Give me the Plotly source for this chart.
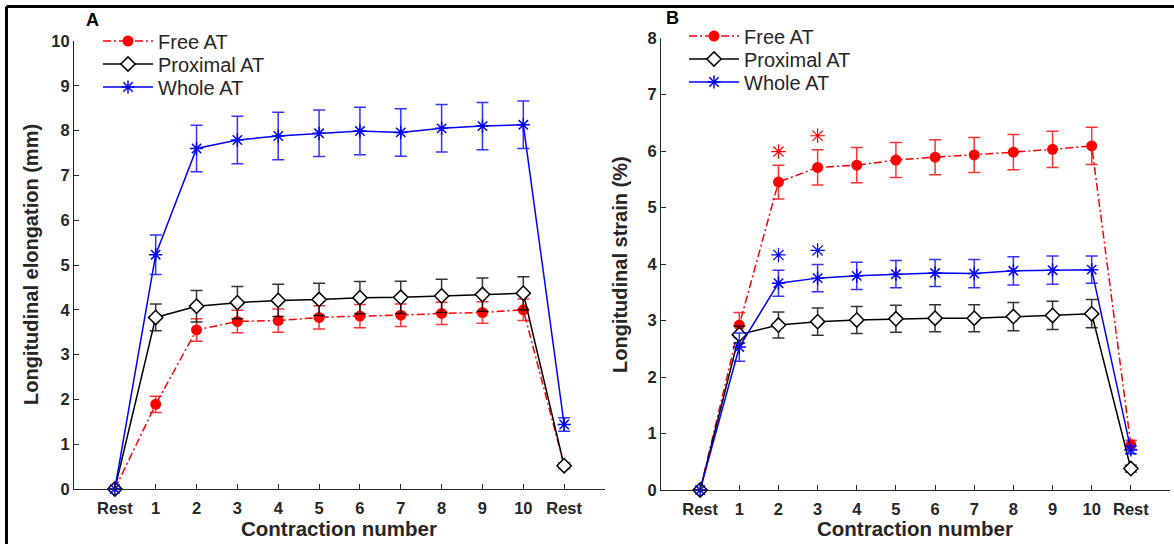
import plotly.graph_objects as go

W, H = 1174, 544

# ---------------- data ----------------
x_idx = list(range(12))
tick_labels = ["Rest", "1", "2", "3", "4", "5", "6", "7", "8", "9", "10", "Rest"]

# Panel A: longitudinal elongation (mm)
free_A = [0, 1.89, 3.55, 3.74, 3.76, 3.83, 3.86, 3.88, 3.92, 3.94, 4.00, 0.52]
free_A_err = [0, 0.18, 0.25, 0.25, 0.26, 0.26, 0.26, 0.25, 0.25, 0.24, 0.24, 0.05]
prox_A = [0, 3.83, 4.08, 4.16, 4.21, 4.23, 4.27, 4.28, 4.31, 4.34, 4.37, 0.52]
prox_A_err = [0, 0.30, 0.35, 0.36, 0.36, 0.36, 0.36, 0.36, 0.37, 0.37, 0.37, 0.06]
whole_A = [0, 5.23, 7.60, 7.79, 7.88, 7.94, 7.99, 7.96, 8.05, 8.10, 8.13, 1.44]
whole_A_err = [0, 0.44, 0.52, 0.53, 0.53, 0.52, 0.53, 0.53, 0.53, 0.53, 0.53, 0.15]

# Panel B: longitudinal strain (%)
free_B = [0, 2.92, 5.45, 5.71, 5.75, 5.84, 5.89, 5.93, 5.98, 6.03, 6.09, 0.80]
free_B_err = [0, 0.22, 0.30, 0.31, 0.31, 0.31, 0.31, 0.31, 0.31, 0.32, 0.33, 0.08]
prox_B = [0, 2.75, 2.92, 2.98, 3.01, 3.03, 3.04, 3.04, 3.07, 3.09, 3.12, 0.38]
prox_B_err = [0, 0.15, 0.23, 0.24, 0.24, 0.24, 0.24, 0.24, 0.25, 0.25, 0.25, 0.06]
whole_B = [0, 2.53, 3.66, 3.75, 3.79, 3.82, 3.84, 3.83, 3.88, 3.89, 3.90, 0.71]
whole_B_err = [0, 0.25, 0.23, 0.24, 0.24, 0.24, 0.24, 0.25, 0.25, 0.25, 0.24, 0.07]

# significance markers (panel B)
sig_x = [2, 3]
sig_free_B = [5.99, 6.27]
sig_whole_B = [4.16, 4.24]

series_names = ["Free AT", "Proximal AT", "Whole AT"]

# ---------------- styles ----------------
RED, BLACK, BLUE = "#ff0000", "#000000", "#0000ff"
AX = "#262626"
FONT = "Liberation Sans, Arial, sans-serif"


def px_x(p):
    return p / W


def px_y(p):
    return 1 - p / H


fig = go.Figure()


def add_panel(xa, ya, legends, free, free_e, prox, prox_e, whole, whole_e):
    fig.add_trace(go.Scatter(
        x=x_idx, y=free, name=series_names[0], mode="lines+markers",
        xaxis=xa, yaxis=ya, legend=legends[0], cliponaxis=False,
        line=dict(color=RED, width=1.5, dash="8px,3px,2px,3px"),
        marker=dict(symbol="circle", size=11, color=RED, line=dict(width=0)),
        error_y=dict(type="data", array=free_e, color="rgba(255,0,0,0.8)",
                     thickness=1.5, width=6),
    ))
    fig.add_trace(go.Scatter(
        x=x_idx, y=prox, name=series_names[1], mode="lines+markers",
        xaxis=xa, yaxis=ya, legend=legends[1], cliponaxis=False,
        line=dict(color=BLACK, width=1.5),
        marker=dict(symbol="diamond", size=11, color="white",
                    line=dict(color=BLACK, width=1.5)),
        error_y=dict(type="data", array=prox_e, color="rgba(0,0,0,0.8)",
                     thickness=1.5, width=6),
    ))
    fig.add_trace(go.Scatter(
        x=x_idx, y=whole, name=series_names[2], mode="lines+markers",
        xaxis=xa, yaxis=ya, legend=legends[2], cliponaxis=False,
        line=dict(color=BLUE, width=1.5),
        marker=dict(symbol="asterisk-open", size=11, color=BLUE,
                    line=dict(color=BLUE, width=1.5)),
        error_y=dict(type="data", array=whole_e, color="rgba(0,0,255,0.8)",
                     thickness=1.5, width=6),
    ))


add_panel("x", "y", ["legend", "legend2", "legend3"],
          free_A, free_A_err, prox_A, prox_A_err, whole_A, whole_A_err)
add_panel("x2", "y2", ["legend4", "legend5", "legend6"],
          free_B, free_B_err, prox_B, prox_B_err, whole_B, whole_B_err)

# significance asterisks
fig.add_trace(go.Scatter(
    x=sig_x, y=sig_free_B, mode="markers", xaxis="x2", yaxis="y2", showlegend=False,
    marker=dict(symbol="asterisk-open", size=12, color=RED, line=dict(color=RED, width=1.2)),
))
fig.add_trace(go.Scatter(
    x=sig_x, y=sig_whole_B, mode="markers", xaxis="x2", yaxis="y2", showlegend=False,
    marker=dict(symbol="asterisk-open", size=12, color=BLUE, line=dict(color=BLUE, width=1.2)),
))

axis_common = dict(
    showline=True, linecolor=AX, linewidth=1, mirror=False,
    ticks="inside", ticklen=5, tickcolor=AX, tickwidth=1,
    showgrid=False, zeroline=False, automargin=False,
    tickfont=dict(family=FONT, size=16.5, color=AX, weight="bold"),
)

xA = dict(axis_common, domain=[px_x(74), px_x(605)], range=[-1, 12],
          tickmode="array", tickvals=x_idx, ticktext=tick_labels, anchor="y",
          ticklabelstandoff=4)
yA = dict(axis_common, domain=[px_y(489), px_y(41)], range=[0, 10], dtick=1,
          tick0=0, anchor="x")
xB = dict(axis_common, domain=[px_x(661), px_x(1170)], range=[-1, 12],
          tickmode="array", tickvals=x_idx, ticktext=tick_labels, anchor="y2",
          ticklabelstandoff=4)
yB = dict(axis_common, domain=[px_y(490), px_y(38)], range=[0, 8], dtick=1,
          tick0=0, anchor="x2")

legend_common = dict(
    bgcolor="rgba(0,0,0,0)", borderwidth=0,
    font=dict(family=FONT, size=20, color=AX),
    xanchor="left", yanchor="middle", itemwidth=50,
)


def leg(x, y):
    return dict(legend_common, x=px_x(x), y=px_y(y))


title_font = dict(family=FONT, size=20, color=AX, weight="bold")


def ann(text, x, y, font, angle=0):
    return dict(text=text, x=px_x(x), y=px_y(y), xref="paper", yref="paper",
                xanchor="center", yanchor="middle", textangle=angle,
                showarrow=False, font=font)


annotations = [
    ann("A", 92, 20, dict(family=FONT, size=18, color="black", weight="bold")),
    ann("B", 673, 18, dict(family=FONT, size=18, color="black", weight="bold")),
    ann("Longitudinal elongation (mm)", 31, 265, title_font, -90),
    ann("Longitudinal strain (%)", 620, 265, title_font, -90),
    ann("Contraction number", 339, 528, dict(title_font, size=20.5)),
    ann("Contraction number", 915, 528, dict(title_font, size=20.5)),
]

shapes = [
    dict(type="line", xref="paper", yref="paper", x0=px_x(6.5), x1=1.0,
         y0=px_y(6.5), y1=px_y(6.5), line=dict(color="black", width=3)),
    dict(type="line", xref="paper", yref="paper", x0=px_x(6.5), x1=px_x(6.5),
         y0=0, y1=px_y(6.5), line=dict(color="black", width=3)),
]

fig.update_layout(
    width=W, height=H,
    margin=dict(l=0, r=0, t=0, b=0, pad=0, autoexpand=False),
    paper_bgcolor="white", plot_bgcolor="white",
    xaxis=xA, yaxis=yA, xaxis2=xB, yaxis2=yB,
    legend=leg(98, 41), legend2=leg(98, 64), legend3=leg(98, 87),
    legend4=leg(684, 36), legend5=leg(684, 59), legend6=leg(684, 82),
    annotations=annotations,
    shapes=shapes,
    font=dict(family=FONT),
)

fig.write_html(
    "out.html",
    config={"displayModeBar": False},
    post_script="document.body.style.margin='0';document.body.style.overflow='hidden';",
)
